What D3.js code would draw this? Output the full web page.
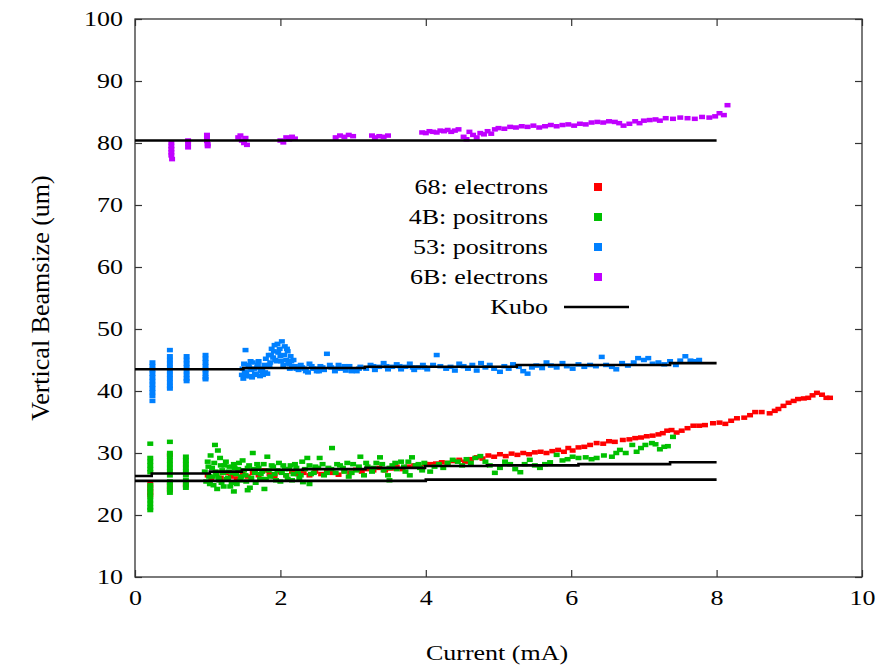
<!DOCTYPE html>
<html>
<head>
<meta charset="utf-8">
<script src="https://cdn.jsdelivr.net/npm/d3@7"></script>
<style>
  body { margin: 0; background: #fff; }
  text { font-family: "Liberation Serif", "DejaVu Serif", serif; fill: #000; }
</style>
</head>
<body>
<div id="chart"></div>
<script>
// ---- data ----
const xTicks = [0, 2, 4, 6, 8, 10];
const yTicks = [10, 20, 30, 40, 50, 60, 70, 80, 90, 100];

const seriesNames = ["68: electrons", "4B: positrons", "53: positrons", "6B: electrons"];
const seriesColors = ["#ff0000", "#00c000", "#0080ff", "#c000ff"];

// 68: electrons
const red68 = [
  [0.21,25.0],[0.21,24.4],[0.21,23.8],[0.21,23.2],[0.48,29.7],[0.48,25.2],[0.48,24.6],[0.48,24.0],[0.70,24.8],
  [1.00,26.4],[1.05,25.8],[1.12,26.6],[1.18,26.0],[1.25,26.8],[1.32,26.2],[1.40,25.9],[1.48,26.6],[1.55,26.2],
  [1.62,26.8],[1.70,26.4],[1.78,27.2],[1.85,26.6],[1.92,26.2],[2.00,26.9],[2.08,26.4],[2.16,27.0],[2.24,26.6],
  [2.32,26.8],[2.40,26.4],[2.48,27.0],[2.56,26.6],[2.64,27.2],[2.72,26.8],[2.80,26.5],[2.88,27.1],[2.96,26.8],
  [3.04,27.3],[3.12,27.0],[3.20,27.4],[3.28,27.2],[3.36,27.6],[3.44,27.2],[3.52,27.5],[3.60,27.8],[3.68,27.4],
  [3.76,27.8],[3.84,28.0],[3.92,27.7],[4.00,28.2],
  [4.06,28.2],[4.14,28.3],[4.22,28.5],[4.30,28.4],[4.38,28.7],[4.46,28.9],[4.54,28.6],[4.62,29.0],[4.70,29.3],
  [4.78,29.1],[4.86,29.6],[4.94,29.4],[5.02,29.8],[5.10,29.5],[5.18,29.9],[5.26,29.7],[5.34,30.0],[5.42,29.8],
  [5.50,30.1],[5.58,30.2],[5.66,30.0],[5.74,30.3],[5.82,30.5],[5.90,30.2],[5.96,30.8],[6.02,30.4],[6.10,30.9],
  [6.18,31.0],[6.26,31.3],[6.35,31.6],[6.44,31.5],[6.52,31.9],[6.60,31.8],[6.71,32.1],[6.80,32.2],[6.88,32.4],
  [6.96,32.5],[7.04,32.7],[7.12,32.8],[7.20,33.0],[7.26,33.2],[7.32,33.6],[7.38,33.7],
  [7.45,33.3],[7.52,33.6],[7.60,34.0],[7.68,34.4],[7.76,34.4],[7.84,34.5],[7.95,34.8],[8.04,34.9],[8.12,34.7],
  [8.20,35.2],[8.28,35.6],[8.38,35.7],[8.46,36.1],[8.53,36.6],[8.62,36.6],[8.73,36.4],[8.80,36.8],[8.85,37.1],
  [8.92,37.6],[8.99,38.1],[9.06,38.4],[9.12,38.7],[9.20,38.8],[9.26,38.9],[9.32,39.3],[9.38,39.7],[9.45,39.4],
  [9.51,38.9],[9.56,38.9]
];

// 4B: positrons
const green4B = [
  [0.21,31.5],[0.21,29.2],[0.21,28.6],[0.21,28.0],[0.21,27.4],[0.21,26.9],[0.21,24.8],[0.21,24.2],[0.21,23.6],
  [0.21,23.0],[0.21,22.4],[0.21,21.8],[0.21,21.2],[0.21,20.8],
  [0.48,31.8],[0.48,30.0],[0.48,29.4],[0.48,28.8],[0.48,28.2],[0.48,27.6],[0.48,27.0],[0.48,26.4],[0.48,25.4],
  [0.48,24.8],[0.48,24.2],[0.48,23.6],
  [0.70,29.4],[0.70,28.8],[0.70,28.2],[0.70,27.6],[0.70,27.0],[0.70,26.4],[0.70,25.6],[0.70,25.0],[0.70,24.4],
  [0.96,27.0],[0.98,25.4],[1.00,28.6],[1.02,26.2],[1.04,29.6],[1.06,27.6],[1.08,24.8],[1.10,31.3],[1.12,26.6],
  [1.14,30.4],[1.16,25.6],[1.18,28.0],[1.20,27.2],[1.22,24.6],[1.25,28.6],[1.28,26.0],[1.30,27.8],[1.33,25.2],
  [1.36,28.2],[1.39,26.6],[1.42,27.4],[1.45,25.6],[1.48,28.8],[1.52,26.4],[1.55,27.6],[1.58,24.4],[1.62,30.0],
  [1.65,26.8],[1.68,28.2],[1.72,25.8],[1.75,27.0],[1.78,24.2],[1.82,29.4],[1.86,26.2],[1.90,27.8],[1.94,25.6],
  [1.98,28.4],[2.02,26.8],[2.06,27.4],[2.10,25.8],[2.14,28.0],[2.18,26.6],[2.22,27.6],[2.26,26.0],[2.30,28.6],
  [1.01,27.8],[1.03,25.0],[1.07,26.2],[1.09,28.4],[1.11,27.0],[1.13,24.2],[1.15,26.0],[1.17,29.2],[1.19,25.2],
  [1.21,26.8],[1.23,28.0],[1.26,25.8],[1.29,27.0],[1.31,24.6],[1.34,26.8],[1.37,27.6],[1.40,25.0],[1.43,28.4],
  [1.46,26.2],[1.50,27.2],[1.53,25.4],[1.57,28.0],[1.60,26.0],[1.63,27.4],[1.66,25.2],[1.70,27.6],[1.73,26.6],
  [1.77,28.2],[1.80,25.8],[1.84,27.2],[1.88,28.0],[1.92,26.6],[1.96,27.2],[2.00,25.4],[2.04,28.0],[2.08,26.4],
  [2.12,27.4],[2.16,25.6],[2.20,28.2],[2.24,27.0],[2.28,26.4],[1.36,23.8],[1.55,24.0],
  [2.31,25.3],[2.37,29.2],[2.42,26.6],[2.48,27.8],[2.54,29.2],[2.60,26.4],[2.66,27.6],[2.71,30.8],[2.76,26.8],
  [2.82,28.0],[2.88,27.0],[2.94,26.2],[3.00,28.2],[3.05,27.2],[3.10,29.4],[3.15,26.4],[3.20,27.8],[3.26,27.0],
  [3.32,28.4],[3.37,29.3],[3.42,27.2],[3.48,26.4],[3.54,28.0],[3.60,27.4],[3.66,28.6],[3.72,27.0],[3.78,26.4],
  [3.81,29.3],[3.86,28.0],[3.92,27.6],[3.98,28.4],
  [2.34,27.4],[2.40,28.0],[2.46,26.8],[2.52,27.6],[2.58,28.2],[2.64,26.8],[2.70,27.4],[2.78,28.2],[2.86,27.6],
  [2.92,28.4],[2.98,26.8],[3.08,27.8],[3.18,28.4],[3.28,27.6],[3.40,28.2],[3.50,27.6],[3.58,28.4],[3.70,27.8],
  [3.76,28.6],[3.90,28.2],[3.95,27.2],[2.40,25.0],[3.50,25.6],
  [4.06,27.0],[4.12,27.8],[4.18,28.2],[4.24,27.6],[4.30,28.4],[4.37,28.9],[4.44,28.6],[4.50,28.0],[4.56,29.0],
  [4.62,28.4],[4.68,29.2],[4.75,29.5],[4.82,28.6],[4.88,28.0],[4.95,26.8],[5.02,27.6],[5.09,28.6],[5.16,28.2],
  [5.23,27.4],[5.30,26.9],[5.36,28.2],[5.43,28.9],[5.50,28.0],[5.57,27.6],[5.64,28.2],[5.71,28.5],[5.80,29.7],
  [5.88,28.8],[5.95,29.0],[6.02,29.4],[6.10,29.2],[6.20,29.3],[6.28,29.0],[6.35,29.2],[6.45,29.6],[6.56,29.4],
  [6.62,30.0],[6.67,30.5],[6.75,30.0],[6.84,31.3],[6.90,30.2],[6.96,30.8],[7.02,31.3],[7.11,31.6],[7.16,31.4],
  [7.22,30.6],[7.28,31.0],[7.33,31.1],[7.40,32.6]
];

// 53: positrons
const blue53 = [
  [0.24,44.6],[0.24,44.0],[0.24,43.4],[0.24,42.8],[0.24,42.2],[0.24,41.6],[0.24,41.0],[0.24,40.4],[0.24,39.8],
  [0.24,39.2],[0.24,38.4],
  [0.48,46.6],[0.48,45.6],[0.48,45.0],[0.48,44.4],[0.48,43.8],[0.48,43.2],[0.48,42.6],[0.48,42.0],[0.48,41.4],
  [0.48,40.8],[0.48,40.4],
  [0.71,45.6],[0.71,45.0],[0.71,44.4],[0.71,43.8],[0.71,43.2],[0.71,42.6],[0.71,42.0],[0.71,41.6],
  [0.97,45.8],[0.97,45.2],[0.97,44.6],[0.97,44.0],[0.97,43.4],[0.97,42.8],[0.97,42.2],[0.97,41.9],
  [1.47,42.6],[1.48,43.6],[1.50,44.4],[1.52,46.6],[1.53,43.0],[1.56,44.2],[1.58,42.4],[1.60,43.4],[1.62,44.6],
  [1.65,42.8],[1.68,43.8],[1.70,44.8],[1.73,43.2],[1.76,42.6],[1.78,44.2],[1.80,45.2],
  [1.49,42.0],[1.51,43.0],[1.54,42.4],[1.57,43.8],[1.59,44.8],[1.61,42.2],[1.64,43.6],[1.67,42.6],[1.69,44.2],
  [1.72,42.4],[1.75,43.6],[1.79,43.0],[1.82,42.8],[1.85,44.2],[1.87,45.8],[1.91,46.4],[1.93,45.0],[1.96,47.6],
  [1.99,46.8],[2.01,44.8],[2.05,45.8],[2.09,46.8],[2.11,44.6],[2.13,43.6],[2.15,44.8],[2.18,45.0],
  [1.84,45.8],[1.86,44.6],[1.88,46.8],[1.90,45.4],[1.92,47.4],[1.95,44.8],[1.97,46.2],[2.00,45.6],[2.02,48.0],
  [2.04,44.2],[2.06,47.2],[2.08,45.0],[2.10,46.4],[2.12,44.4],[2.14,45.6],[2.16,43.8],
  [2.20,44.0],[2.25,43.4],[2.30,43.8],[2.35,43.2],[2.40,44.4],[2.45,43.6],[2.50,43.2],[2.55,44.0],[2.60,43.4],
  [2.64,46.0],[2.70,43.8],[2.75,43.2],[2.80,44.2],[2.85,43.6],[2.90,43.3],[2.95,44.0],[3.00,43.5],[3.05,43.2],
  [3.10,43.9],[3.18,43.6],[3.24,44.2],[3.30,43.4],[3.36,43.9],[3.42,44.5],[3.48,43.5],[3.54,43.9],[3.60,44.3],
  [3.66,43.5],[3.72,43.9],[3.78,44.4],[3.84,43.4],[3.90,43.8],[3.96,44.2],[4.02,43.5],
  [2.22,43.6],[2.28,44.2],[2.33,43.6],[2.38,43.0],[2.43,44.0],[2.48,43.6],[2.53,43.2],[2.58,43.8],[2.68,44.2],
  [2.78,43.6],[2.88,44.0],[2.98,43.2],[3.08,43.6],[3.28,44.0],[3.46,44.0],[3.64,44.0],[3.82,43.8],[3.98,43.8],
  [4.10,44.2],[4.15,45.8],[4.20,44.0],[4.28,43.6],[4.34,43.9],[4.40,43.3],[4.46,44.4],[4.52,44.0],[4.58,43.6],
  [4.64,44.2],[4.70,43.3],[4.76,44.5],[4.82,43.8],[4.88,44.2],[4.94,43.6],[5.02,43.1],[5.08,44.0],[5.14,43.6],
  [5.20,44.3],[5.28,43.9],[5.34,43.2],[5.40,42.8],[5.46,43.8],[5.52,44.1],[5.60,43.7],[5.66,44.6],[5.72,44.1],
  [5.80,43.8],[5.88,44.5],[5.94,44.0],[6.02,43.6],[6.10,44.3],[6.18,43.9],[6.26,44.2],[6.34,44.0],[6.42,45.5],
  [6.48,44.2],[6.56,43.9],[6.62,43.5],[6.70,44.5],[6.78,44.1],[6.86,44.6],[6.92,45.3],[7.00,45.0],[7.06,45.3],
  [7.12,44.4],[7.20,44.6],[7.28,44.3],[7.36,44.8],[7.44,44.2],[7.50,44.9],[7.57,45.6],[7.64,44.9],[7.70,44.8],
  [7.76,45.0]
];

// 6B: electrons
const purple6B = [
  [0.50,80.1],[0.50,79.5],[0.50,79.0],[0.50,78.5],[0.50,78.0],[0.51,77.4],
  [0.73,80.4],[0.73,79.9],[0.73,79.3],
  [0.99,81.3],[0.99,80.8],[0.99,80.3],[1.00,79.8],[1.00,79.5],
  [1.42,80.9],[1.45,81.2],[1.47,80.4],[1.50,80.0],[1.52,80.8],[1.54,79.7],
  [2.00,80.4],[2.04,80.1],[2.08,80.9],[2.12,80.6],[2.16,81.0],[2.20,80.7],
  [2.76,80.9],[2.82,81.2],[2.88,81.0],[2.94,81.3],[3.00,81.1],
  [3.26,81.2],[3.30,80.9],[3.36,81.1],[3.42,81.0],[3.48,81.2],
  [3.95,81.7],[4.00,81.6],[4.05,81.9],[4.10,81.8],[4.15,81.7],[4.20,82.0],[4.25,81.9],[4.30,82.1],[4.35,81.8],
  [4.40,82.0],[4.45,82.2],
  [4.52,81.0],[4.56,80.6],[4.60,81.8],[4.65,81.3],[4.70,80.9],[4.75,81.6],[4.80,81.4],[4.85,81.9],[4.90,81.5],
  [4.95,82.2],[5.00,82.4],[5.08,82.3],[5.16,82.6],[5.24,82.5],[5.32,82.7],[5.40,82.6],[5.48,82.8],[5.56,82.5],
  [5.64,82.7],[5.72,82.9],[5.80,82.7],[5.88,82.9],[5.96,83.0],[6.04,82.8],[6.12,83.1],[6.20,83.0],
  [6.28,83.3],[6.36,83.4],[6.44,83.3],[6.52,83.5],[6.60,83.4],[6.66,83.2],
  [6.72,82.8],[6.80,83.1],[6.88,83.5],[6.94,83.2],[7.00,83.6],[7.08,83.7],[7.16,83.8],[7.22,83.6],
  [7.30,84.0],[7.40,83.9],[7.50,84.1],[7.60,84.0],[7.70,83.9],[7.80,84.2],[7.90,84.1],[7.98,84.3],
  [8.04,84.8],[8.10,84.5],[8.15,86.1]
];

// Kubo predictions (step lines)
const kubo6B = [[0,80.4],[8,80.4]];
const kubo53 = [[0,43.5],[1.49,43.7],[3.16,43.9],[5.25,44.2],[7.36,44.5],[8,44.5]];
const kubo4B = [[0,26.3],[0.23,26.7],[1.03,27.0],[1.47,27.3],[2.31,27.4],[3.17,27.6],[3.99,27.9],[4.84,28.0],[6.1,28.2],[7.36,28.5],[8,28.5]];
const kubo68 = [[0,25.5],[4.0,25.7],[8,25.7]];

// ---- chart ----
const W = 881, H = 667;
const m = { left: 135, right: 19, top: 19, bottom: 90 };
const SX = 1.3; // text in the reference is stretched horizontally

const svg = d3.select("#chart").append("svg")
  .attr("width", W).attr("height", H);

const x = d3.scaleLinear().domain([0, 10]).range([m.left, W - m.right]);
const y = d3.scaleLinear().domain([10, 100]).range([H - m.bottom, m.top]);

// axes with inward ticks
const tl = 7;
svg.append("g").attr("transform", `translate(0,${H - m.bottom})`)
  .call(d3.axisBottom(x).tickValues(xTicks).tickSize(-tl).tickPadding(14).tickFormat(d3.format("d")))
  .call(g => g.selectAll("text").attr("transform", `scale(${SX},1)`));
svg.append("g").attr("transform", `translate(${m.left},0)`)
  .call(d3.axisLeft(y).tickValues(yTicks).tickSize(-tl).tickFormat(d3.format("d")))
  .call(g => g.selectAll("text").attr("x", -12 / SX).attr("transform", `scale(${SX},1)`));
svg.append("g").attr("transform", `translate(${W - m.right},0)`)
  .call(d3.axisRight(y).tickValues(yTicks).tickSize(-tl).tickFormat(""));
svg.append("g").attr("transform", `translate(0,${m.top})`)
  .call(d3.axisTop(x).tickValues(xTicks).tickSize(-tl).tickFormat(""));

svg.selectAll(".domain").remove();
svg.selectAll(".tick line").attr("stroke", "#333").attr("stroke-width", 1.2);
svg.selectAll(".tick text").attr("font-size", 20).attr("font-family", "Liberation Serif").attr("fill", "#000");

svg.append("rect")
  .attr("x", m.left).attr("y", m.top)
  .attr("width", W - m.left - m.right).attr("height", H - m.top - m.bottom)
  .attr("fill", "none").attr("stroke", "#333").attr("stroke-width", 1.3);

// axis titles
svg.append("text")
  .attr("transform", `translate(497,660) scale(${SX},1)`)
  .attr("text-anchor", "middle").attr("font-size", 20)
  .text("Current (mA)");
svg.append("text")
  .attr("transform", `translate(49,298) rotate(-90)`)
  .attr("text-anchor", "middle").attr("font-size", 26)
  .text("Vertical Beamsize (um)");

// points
const allSeries = [red68, green4B, blue53, purple6B];
const pw = 6, ph = 4.5;
allSeries.forEach((pts, i) => {
  svg.append("g").selectAll("rect").data(pts).join("rect")
    .attr("x", d => x(d[0]) - pw / 2)
    .attr("y", d => y(d[1]) - ph / 2)
    .attr("width", pw).attr("height", ph)
    .attr("fill", seriesColors[i]);
});

// Kubo lines
const line = d3.line().x(d => x(d[0])).y(d => y(d[1])).curve(d3.curveStepAfter);
[kubo6B, kubo53, kubo4B, kubo68].forEach(k => {
  svg.append("path").attr("d", line(k))
    .attr("fill", "none").attr("stroke", "#000").attr("stroke-width", 2.6);
});

// legend
const legX = 548, legY = 187, legStep = 30;
seriesNames.forEach((name, i) => {
  const yy = legY + i * legStep;
  svg.append("text")
    .attr("transform", `translate(${legX},${yy}) scale(${SX},1)`)
    .attr("text-anchor", "end").attr("dominant-baseline", "central").attr("font-size", 20)
    .text(name);
  svg.append("rect")
    .attr("x", 598 - 4).attr("y", yy - 4).attr("width", 8).attr("height", 8)
    .attr("fill", seriesColors[i]);
});
const kuboY = legY + 4 * legStep;
svg.append("text")
  .attr("transform", `translate(${legX},${kuboY}) scale(${SX},1)`)
  .attr("text-anchor", "end").attr("dominant-baseline", "central").attr("font-size", 20)
  .text("Kubo");
svg.append("line")
  .attr("x1", 564).attr("x2", 629).attr("y1", kuboY).attr("y2", kuboY)
  .attr("stroke", "#000").attr("stroke-width", 2.6);
</script>
</body>
</html>
